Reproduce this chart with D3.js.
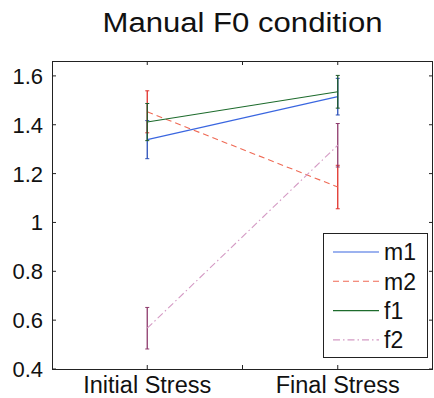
<!DOCTYPE html>
<html>
<head>
<meta charset="utf-8">
<script src="https://cdn.jsdelivr.net/npm/d3@7"></script>
<style>
  html, body { margin: 0; padding: 0; background: #fff; }
  svg { display: block; font-family: "Liberation Sans", Arial, sans-serif; }
</style>
</head>
<body>
<div id="chart"></div>
<script>
// data
const conditions = ["Initial Stress", "Final Stress"];
const speakers = ["m1", "m2", "f1", "f2"];
const means = {
  m1: [1.339, 1.515],
  m2: [1.453, 1.145],
  f1: [1.411, 1.535],
  f2: [0.567, 1.316],
};
const errors = {
  m1: [0.078, 0.075],
  m2: [0.086, 0.089],
  f1: [0.076, 0.067],
  f2: [0.085, 0.089],
};
const yTicks = [0.4, 0.6, 0.8, 1, 1.2, 1.4, 1.6];
const xTicks = [1, 1.5, 2];

const colors = { m1: "#3a66e0", m2: "#ef6a55", f1: "#1d6b2c", f2: "#d49ac4" };
const barColors = { m1: "#2a4fb8", m2: "#e0302a", f1: "#1f5a2a", f2: "#8e3a6c" };
const dashes = { m1: null, m2: "6,4", f1: null, f2: "7,3,1.5,3" };

const width = 434, height = 398;
const margin = { top: 61, right: 1, bottom: 29, left: 52 };

const svg = d3.select("#chart").append("svg")
  .attr("width", width)
  .attr("height", height);

const x = d3.scaleLinear().domain([0.5, 2.5]).range([margin.left, width - margin.right]);
const y = d3.scaleLinear().domain([0.4, 1.661]).range([height - margin.bottom, margin.top]);

const [x0, x1] = x.range();
const [y0, y1] = y.range();

// title
svg.append("text")
  .attr("x", (x0 + x1) / 2)
  .attr("y", 32)
  .attr("text-anchor", "middle")
  .attr("font-size", 27)
  .attr("textLength", 280)
  .attr("lengthAdjust", "spacingAndGlyphs")
  .attr("fill", "#111")
  .text("Manual F0 condition");

// series lines
const series = speakers.map((s) => ({
  name: s,
  values: means[s].map((v, i) => ({ x: i + 1, y: v, e: errors[s][i] })),
}));

const line = d3.line().x((d) => x(d.x)).y((d) => y(d.y));

const g = svg.append("g");

series.forEach((s) => {
  const sg = g.append("g");
  // error bars
  sg.selectAll(".err")
    .data(s.values)
    .join("line")
    .attr("x1", (d) => x(d.x))
    .attr("x2", (d) => x(d.x))
    .attr("y1", (d) => y(d.y - d.e))
    .attr("y2", (d) => y(d.y + d.e))
    .attr("stroke", barColors[s.name])
    .attr("stroke-width", 1.3);
  sg.selectAll(".cap")
    .data(s.values.flatMap((d) => [d.y - d.e, d.y + d.e].map((v) => ({ x: d.x, v }))))
    .join("line")
    .attr("x1", (d) => x(d.x) - 2)
    .attr("x2", (d) => x(d.x) + 2)
    .attr("y1", (d) => y(d.v))
    .attr("y2", (d) => y(d.v))
    .attr("stroke", barColors[s.name])
    .attr("stroke-width", 1);
  sg.append("path")
    .datum(s.values)
    .attr("d", line)
    .attr("fill", "none")
    .attr("stroke", colors[s.name])
    .attr("stroke-width", 1.1)
    .attr("stroke-dasharray", dashes[s.name]);
});

// axes box
const axis = svg.append("g").attr("stroke", "#222").attr("stroke-width", 1);
axis.append("rect")
  .attr("x", x0 + 0.5)
  .attr("y", y1 + 0.5)
  .attr("width", x1 - x0 - 1)
  .attr("height", y0 - y1)
  .attr("fill", "none");

const tickLen = 4;
xTicks.forEach((t) => {
  axis.append("line").attr("x1", x(t)).attr("x2", x(t)).attr("y1", y0).attr("y2", y0 - tickLen);
  axis.append("line").attr("x1", x(t)).attr("x2", x(t)).attr("y1", y1).attr("y2", y1 + tickLen);
});
yTicks.forEach((t) => {
  axis.append("line").attr("x1", x0).attr("x2", x0 + tickLen).attr("y1", y(t)).attr("y2", y(t));
  axis.append("line").attr("x1", x1).attr("x2", x1 - tickLen).attr("y1", y(t)).attr("y2", y(t));
});

// tick labels
svg.append("g")
  .selectAll("text")
  .data(yTicks)
  .join("text")
  .attr("x", x0 - 9)
  .attr("y", (d) => y(d))
  .attr("dy", "0.36em")
  .attr("text-anchor", "end")
  .attr("font-size", 22)
  .attr("fill", "#111")
  .text((d) => d3.format("~g")(d));

svg.append("g")
  .selectAll("text")
  .data(conditions)
  .join("text")
  .attr("x", (d, i) => x(i + 1))
  .attr("y", 393)
  .attr("text-anchor", "middle")
  .attr("font-size", 23.5)
  .attr("fill", "#111")
  .text((d) => d);

// legend
const legend = svg.append("g");
legend.append("rect")
  .attr("x", 323.5)
  .attr("y", 233.5)
  .attr("width", 104)
  .attr("height", 124)
  .attr("fill", "#fff")
  .attr("stroke", "#222");

const item = legend.selectAll(".item")
  .data(speakers)
  .join("g")
  .attr("transform", (d, i) => `translate(0,${252 + i * 29.3})`);
item.append("line")
  .attr("x1", 333)
  .attr("x2", 379)
  .attr("stroke", (d) => colors[d])
  .attr("stroke-width", 1.1)
  .attr("stroke-dasharray", (d) => dashes[d]);
item.append("text")
  .attr("x", 384)
  .attr("dy", "0.36em")
  .attr("font-size", 23)
  .attr("fill", "#111")
  .text((d) => d);
</script>
</body>
</html>
